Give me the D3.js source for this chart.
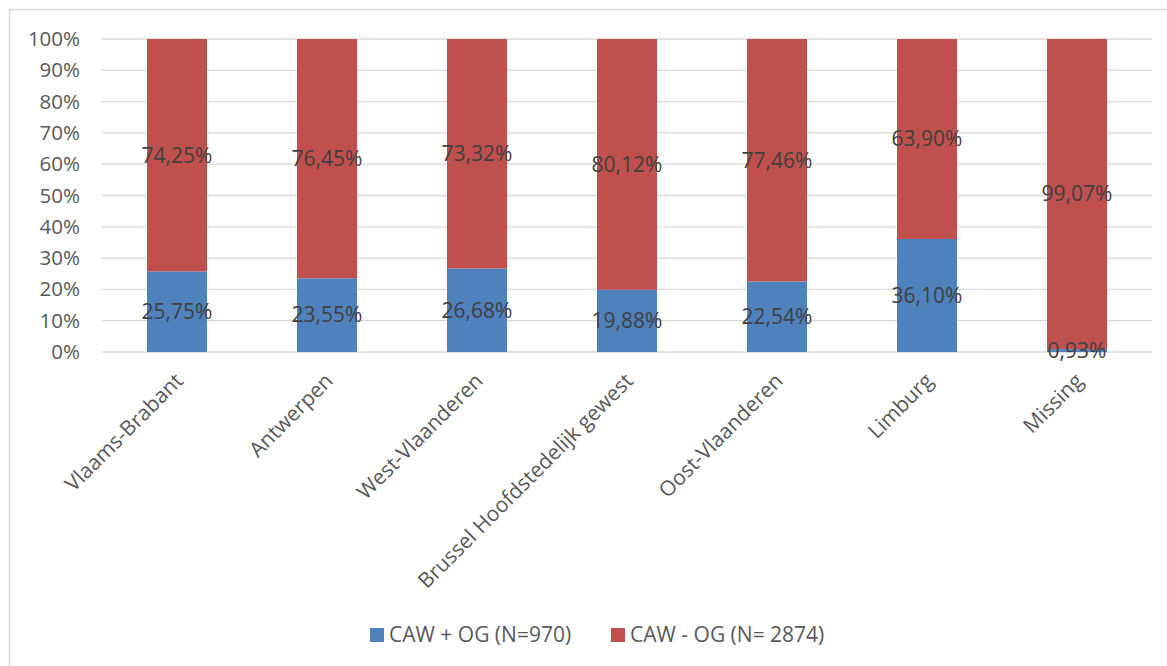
<!DOCTYPE html>
<html><head><meta charset="utf-8">
<script src="https://cdn.jsdelivr.net/npm/d3@7/dist/d3.min.js"></script>
<style>body{margin:0;background:#fff;} svg{display:block;font-family:"Open Sans",sans-serif;}</style>
</head><body>
<svg id="c" width="1167" height="666"></svg>
<script>
const categories = ["Vlaams-Brabant","Antwerpen","West-Vlaanderen","Brussel Hoofdstedelijk gewest","Oost-Vlaanderen","Limburg","Missing"];
const seriesNames = ["CAW + OG (N=970)","CAW - OG (N= 2874)"];
const blueValues = [25.75,23.55,26.68,19.88,22.54,36.10,0.93];
const redValues = [74.25,76.45,73.32,80.12,77.46,63.90,99.07];
const yTicks = [0,10,20,30,40,50,60,70,80,90,100];
const colors = ["#4F81BD","#C0504D"];

const svg = d3.select("#c");
svg.append("rect").attr("x",9.5).attr("y",9.5).attr("width",1180).attr("height",680)
  .attr("fill","none").attr("stroke","#d9d9d9").attr("stroke-width",1.5);

const x = d3.scaleBand().domain(categories).range([102,1152]).paddingInner(0.6).paddingOuter(0.3);
const y = d3.scaleLinear().domain([0,100]).range([352,39]);

const fmt = v => v.toFixed(2).replace(".",",")+"%";

svg.append("g").selectAll("line").data(yTicks).join("line")
  .attr("x1",102).attr("x2",1152).attr("y1",d=>y(d)).attr("y2",d=>y(d))
  .attr("stroke","#d9d9d9").attr("stroke-width",1.3);

const yAxis = svg.append("g").attr("transform","translate(80,0)")
  .call(d3.axisLeft(y).tickValues(yTicks).tickFormat(d=>d+"%").tickSize(0).tickPadding(0));
yAxis.select(".domain").remove();
yAxis.selectAll("text").attr("font-size",20.5).attr("fill","#595959").attr("font-family","Open Sans, sans-serif");

const data = categories.map((c,i)=>({c, b: blueValues[i], r: redValues[i]}));

const g = svg.append("g");
g.selectAll(".b").data(data).join("rect")
  .attr("x",d=>x(d.c)).attr("width",x.bandwidth())
  .attr("y",d=>y(d.b)).attr("height",d=>y(0)-y(d.b)).attr("fill",colors[0]);
g.selectAll(".r").data(data).join("rect")
  .attr("x",d=>x(d.c)).attr("width",x.bandwidth())
  .attr("y",d=>y(d.b+d.r)).attr("height",d=>y(d.b)-y(d.b+d.r)).attr("fill",colors[1]);

const lab = svg.append("g").attr("font-size",21).attr("fill","#404040").attr("text-anchor","middle");
lab.selectAll(".lb").data(data).join("text")
  .attr("x",d=>x(d.c)+x.bandwidth()/2).attr("y",d=>y(d.b/2)).attr("dy","0.35em").text(d=>fmt(d.b));
lab.selectAll(".lr").data(data).join("text")
  .attr("x",d=>x(d.c)+x.bandwidth()/2).attr("y",d=>y(d.b+d.r/2)).attr("dy","0.35em").text(d=>fmt(d.r));

const xAxis = svg.append("g").attr("transform","translate(0,352)")
  .call(d3.axisBottom(x).tickSize(0).tickPadding(0));
xAxis.select(".domain").remove();
xAxis.selectAll("text").attr("font-size",21).attr("fill","#595959").attr("font-family","Open Sans, sans-serif")
  .attr("text-anchor","end").attr("transform","translate(2,25) rotate(-45)").attr("dy","0.35em").attr("y",0);

const leg = svg.append("g").attr("font-size",21).attr("fill","#595959");
const legX = [370,611];
seriesNames.forEach((n,i)=>{
  leg.append("rect").attr("x",legX[i]).attr("y",628).attr("width",14).attr("height",14).attr("fill",colors[i]);
  leg.append("text").attr("x",legX[i]+19).attr("y",635).attr("dy","0.35em").text(n);
});
</script>
</body></html>
